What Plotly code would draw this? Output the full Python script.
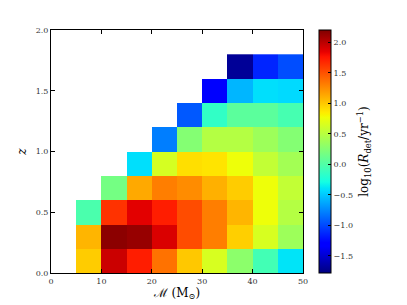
import numpy as np
import plotly.graph_objects as go

# Bin edges
mass_edges = [0, 5, 10, 15, 20, 25, 30, 35, 40, 45, 50]
z_edges = [0.0, 0.2, 0.4, 0.6, 0.8, 1.0, 1.2, 1.4, 1.6, 1.8]

N = None
# log10 detection rate, rows = redshift bins (bottom to top), cols = mass bins
row_0 = [N, 0.98, 1.94, 1.72, 1.36, 1.00, 0.65, 0.29, -0.07, -0.39]
row_1 = [N, 1.08, 2.16, 2.12, 1.89, 1.52, 1.31, 0.97, 0.65, 0.37]
row_2 = [N, -0.03, 1.63, 1.86, 1.72, 1.52, 1.31, 1.08, 0.76, 0.48]
row_3 = [N, N, 0.17, 1.13, 1.31, 1.25, 1.10, 0.98, 0.76, 0.55]
row_4 = [N, N, N, -0.41, 0.64, 0.90, 0.88, 0.76, 0.55, 0.40]
row_5 = [N, N, N, N, -0.79, 0.25, 0.48, 0.48, 0.37, 0.25]
row_6 = [N, N, N, N, N, -0.94, -0.15, 0.05, 0.05, -0.05]
row_7 = [N, N, N, N, N, N, -1.32, -0.57, -0.41, -0.43]
row_8 = [N, N, N, N, N, N, N, -1.70, -1.14, -0.98]
rate = [row_0, row_1, row_2, row_3, row_4, row_5, row_6, row_7, row_8]

zmin, zmax = -1.78, 2.2
x_ticks = [0, 10, 20, 30, 40, 50]
y_ticks = [0.0, 0.5, 1.0, 1.5, 2.0]
cb_ticks = [-1.5, -1.0, -0.5, 0.0, 0.5, 1.0, 1.5, 2.0]
cb_labels = ["\u22121.5", "\u22121.0", "\u22120.5", "0.0", "0.5", "1.0", "1.5", "2.0"]


def jet(t):
    def interp(pts):
        xs = [p[0] for p in pts]
        ys = [p[1] for p in pts]
        return float(np.interp(t, xs, ys))
    r = interp([(0, 0), (0.35, 0), (0.66, 1), (0.89, 1), (1, 0.5)])
    g = interp([(0, 0), (0.125, 0), (0.375, 1), (0.64, 1), (0.91, 0), (1, 0)])
    b = interp([(0, 0.5), (0.11, 1), (0.34, 1), (0.65, 0), (1, 0)])
    return "rgb(%d,%d,%d)" % (round(r * 255), round(g * 255), round(b * 255))


stops = sorted(set([0, 0.11, 0.125, 0.34, 0.35, 0.375, 0.64, 0.65, 0.66, 0.89, 0.91, 1.0]))
jet_scale = [[s, jet(s)] for s in stops]

serif = "DejaVu Serif"

fig = go.Figure(go.Heatmap(
    x=mass_edges, y=z_edges, z=rate,
    colorscale=jet_scale, zmin=zmin, zmax=zmax,
    xgap=0, ygap=0, hoverongaps=False,
    colorbar=dict(
        x=1.063, xanchor="left", xref="paper", xpad=0, ypad=0,
        y=0.5, yanchor="middle", len=1.0, lenmode="fraction",
        thickness=12, outlinecolor="black", outlinewidth=1,
        tickvals=cb_ticks, ticktext=cb_labels,
        ticks="inside", ticklen=3, tickcolor="black",
        tickfont=dict(family=serif, size=8, color="#333"),
        title=dict(text="log<sub>10</sub>(<i>R</i><sub>det</sub>/yr<sup>\u22121</sup>)",
                   side="right", font=dict(family=serif, size=12, color="black")),
    ),
))

fig.update_layout(
    width=399, height=297,
    margin=dict(l=43, r=104, t=22, b=32, autoexpand=False),
    paper_bgcolor="white", plot_bgcolor="white",
    font=dict(family=serif, size=8, color="#333"),
)
fig.update_xaxes(
    range=[0, 50], tickvals=x_ticks, ticks="inside", ticklen=4, tickcolor="black",
    showline=True, linecolor="black", linewidth=1, mirror="ticks",
    showgrid=False, zeroline=False, automargin=False,
    tickfont=dict(family=serif, size=8, color="#333"),
    title=dict(text="\u2133 (M<sub>\u2299</sub>)", font=dict(family=serif, size=12, color="black"), standoff=2),
)
fig.update_yaxes(
    range=[0, 2.0], tickvals=y_ticks, tickformat=".1f", ticks="inside", ticklen=4, tickcolor="black",
    showline=True, linecolor="black", linewidth=1, mirror="ticks",
    showgrid=False, zeroline=False, automargin=False,
    tickfont=dict(family=serif, size=8, color="#333"),
    title=dict(text="<i>z</i>", font=dict(family=serif, size=12, color="black"), standoff=6),
)

fig.write_html("out.html")
